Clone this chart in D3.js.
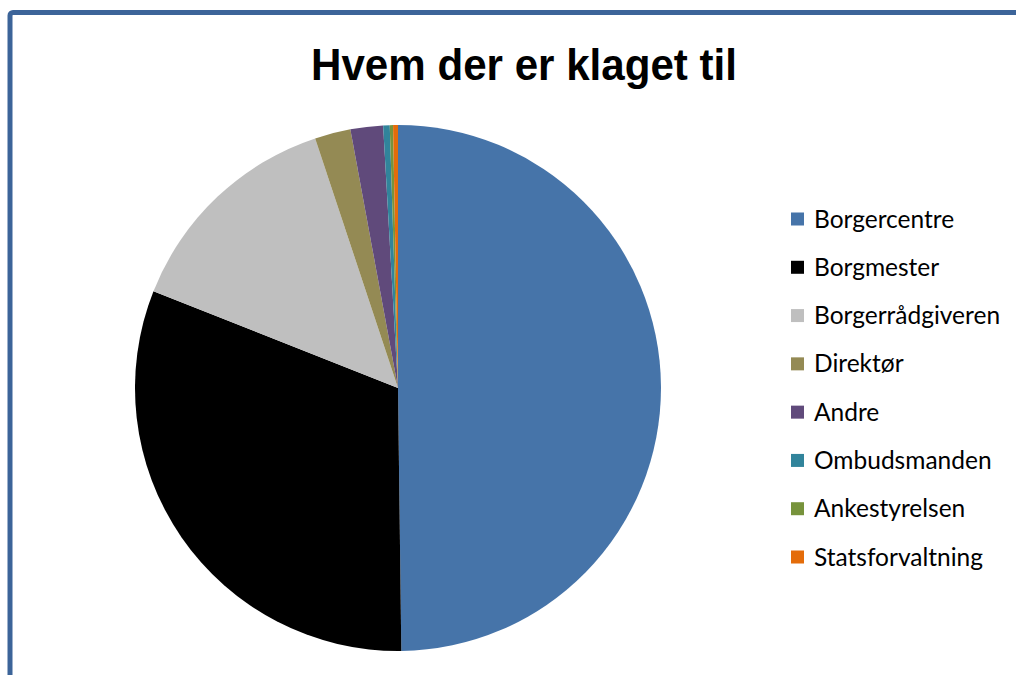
<!DOCTYPE html>
<html>
<head>
<meta charset="utf-8">
<script src="https://cdn.jsdelivr.net/npm/d3@7"></script>
<style>
  body { margin: 0; background: #fff; }
  svg { display: block; }
</style>
</head>
<body>
<svg id="chart"></svg>
<script>
const categories = ['Borgercentre', 'Borgmester', 'Borgerrådgiveren', 'Direktør', 'Andre', 'Ombudsmanden', 'Ankestyrelsen', 'Statsforvaltning'];
const values = [498, 312, 139, 22, 20, 4, 2, 3];
const colors = ['#4674a9', '#000000', '#bfbfbf', '#948a54', '#604a7b', '#31849b', '#77933c', '#e46c0a'];

const width = 1016, height = 675;
const svg = d3.select('#chart').attr('width', width).attr('height', height);

// frame
svg.append('rect')
    .attr('x', 10).attr('y', 12.5)
    .attr('width', 1030).attr('height', 700)
    .attr('rx', 3)
    .attr('fill', 'none')
    .attr('stroke', '#3c6499')
    .attr('stroke-width', 5);

// title
svg.append('text')
    .attr('x', 524).attr('y', 80)
    .attr('text-anchor', 'middle')
    .attr('font-family', '"Liberation Sans Narrow", "Liberation Sans", Arial, sans-serif')
    .attr('font-weight', 'bold')
    .attr('font-size', 45)
    .attr('textLength', 426)
    .attr('lengthAdjust', 'spacingAndGlyphs')
    .text('Hvem der er klaget til');

const color = d3.scaleOrdinal().domain(categories).range(colors);

const pie = d3.pie().sort(null).value(d => d[1]);
const arcs = pie(categories.map((c, i) => [c, values[i]]));
const arc = d3.arc().innerRadius(0).outerRadius(263);

const g = svg.append('g').attr('transform', 'translate(398, 388)');
g.selectAll('path')
    .data(arcs)
    .enter()
    .append('path')
    .attr('d', arc)
    .attr('fill', d => color(d.data[0]));

// legend
const y = d3.scalePoint().domain(categories).range([219, 557]);
const legend = svg.append('g');
const item = legend.selectAll('g')
    .data(categories)
    .enter()
    .append('g')
    .attr('transform', d => `translate(791, ${y(d)})`);
item.append('rect')
    .attr('x', 0).attr('y', -6.5)
    .attr('width', 13).attr('height', 13)
    .attr('fill', d => color(d));
item.append('text')
    .attr('x', 23).attr('y', 0)
    .attr('dy', '0.35em')
    .attr('font-family', 'Lato, "Open Sans", sans-serif')
    .attr('font-size', 24.5)
    .attr('fill', '#000')
    .text(d => d);
</script>
</body>
</html>
